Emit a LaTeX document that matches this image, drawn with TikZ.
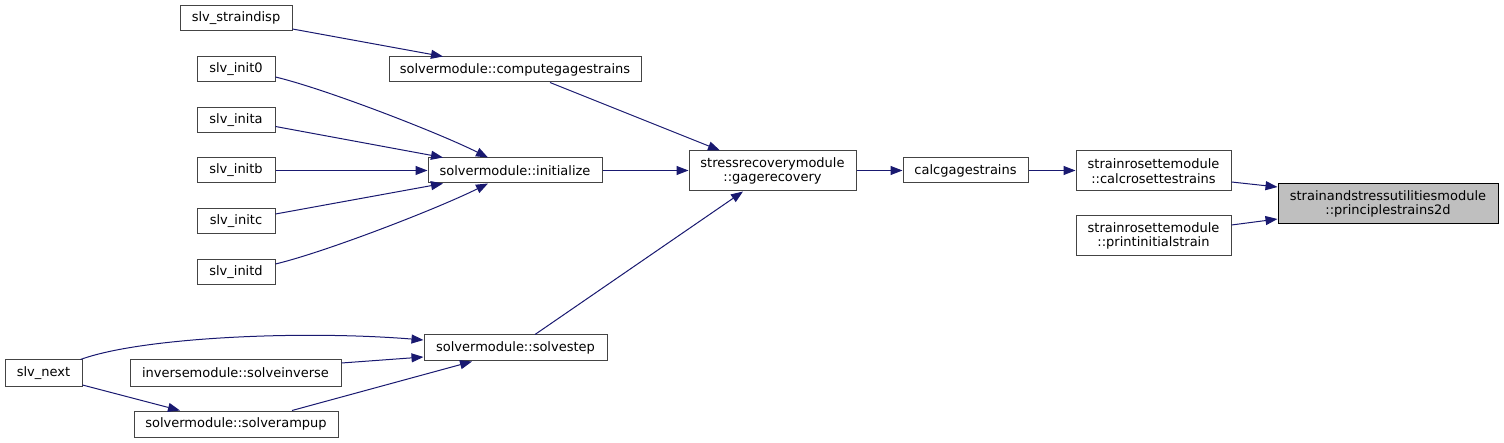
\documentclass[tikz,border=0pt]{standalone}
\usepackage{fontspec}
\setmainfont{DejaVu Sans}
\usetikzlibrary{arrows.meta}
\definecolor{edgeblue}{HTML}{191970}
\definecolor{boxgray}{HTML}{444444}
\definecolor{rootfill}{HTML}{BFBFBF}
\begin{document}
\begin{tikzpicture}[x=1pt,y=-1pt,
  fn/.style={draw=boxgray,line width=1pt,fill=white,inner sep=0pt,
    font=\fontsize{13}{14.5}\selectfont,align=center},
  rootfn/.style={fn,draw=black,fill=rootfill},
  call/.style={draw=edgeblue,line width=1pt,-{Triangle[length=12pt,width=9pt]}}
]
\useasboundingbox (0,0) rectangle (1504,443);
% left column
\node[fn,minimum width=112pt,minimum height=25pt] (sd) at (236,18.5) {slv\_straindisp};
\node[fn,minimum width=78pt,minimum height=25pt] (i0) at (236,69.5) {slv\_init0};
\node[fn,minimum width=78pt,minimum height=25pt] (ia) at (236,120) {slv\_inita};
\node[fn,minimum width=78pt,minimum height=25pt] (ib) at (236,170.5) {slv\_initb};
\node[fn,minimum width=78pt,minimum height=25pt] (ic) at (236,221.5) {slv\_initc};
\node[fn,minimum width=78pt,minimum height=25pt] (id) at (236,272) {slv\_initd};
\node[fn,minimum width=77pt,minimum height=26pt] (nx) at (43.5,373) {slv\_next};
\node[fn,minimum width=211pt,minimum height=26pt] (si) at (235.5,373) {inversemodule::solveinverse};
\node[fn,minimum width=204pt,minimum height=26pt] (ru) at (236,424) {solvermodule::solverampup};
% middle column
\node[fn,minimum width=252pt,minimum height=25pt] (cgs) at (515,69.5) {solvermodule::computegagestrains};
\node[fn,minimum width=174pt,minimum height=25pt] (ini) at (515,170.5) {solvermodule::initialize};
\node[fn,minimum width=183pt,minimum height=26pt] (ss) at (515.5,348) {solvermodule::solvestep};
\node[fn,minimum width=167pt,minimum height=40pt] (gr) at (772.5,171) {stressrecoverymodule\\::gagerecovery};
\node[fn,minimum width=125pt,minimum height=25pt] (cg) at (965.5,170.5) {calcgagestrains};
\node[fn,minimum width=155pt,minimum height=40pt] (cr) at (1153.5,171) {strainrosettemodule\\::calcrosettestrains};
\node[fn,minimum width=155pt,minimum height=40pt] (pi) at (1153.5,236) {strainrosettemodule\\::printinitialstrain};
\node[rootfn,minimum width=220pt,minimum height=40pt] (ps) at (1388,204) {strainandstressutilitiesmodule\\::principlestrains2d};
% connectors
\draw[call] ([yshift=-10.5pt]sd.east) -- ([xshift=-72pt]cgs.north);
\draw[call] ([yshift=-7.5pt]i0.east) .. controls +(50,12) and +(-50,-25) .. ([xshift=-27pt]ini.north);
\draw[call] ([yshift=-6.5pt]ia.east) -- ([xshift=-72pt]ini.north);
\draw[call] (ib.east) -- (ini.west);
\draw[call] ([yshift=7.5pt]ic.east) -- ([xshift=-72pt]ini.south);
\draw[call] ([yshift=8pt]id.east) .. controls +(50,-12) and +(-50,25) .. ([xshift=-27pt]ini.south);
\draw[call] ([xshift=35pt]cgs.south) -- ([xshift=-52.5pt]gr.north);
\draw[call] (ini.east) -- (ini.east -| gr.west);
\draw[call] ([xshift=19.5pt]ss.north) -- ([xshift=-29.5pt]gr.south);
\draw[call] (cg.west -| gr.east) -- (cg.west);
\draw[call] (cg.east) -- (cg.east -| cr.west);
\draw[call] ([yshift=-11pt]cr.east) -- ([yshift=17pt]ps.west);
\draw[call] ([yshift=11pt]pi.east) -- ([yshift=-15pt]ps.west);
\draw[call] ([xshift=-2pt]nx.north east) .. controls +(60,-22) and +(-124,-10) .. ([yshift=8pt]ss.west);
\draw[call] ([yshift=10pt]si.east) -- ([yshift=-9pt]ss.west);
\draw[call] ([yshift=-12pt]nx.east) -- ([xshift=-56pt]ru.north);
\draw[call] ([xshift=56pt]ru.north) -- ([xshift=-43.5pt]ss.south);
\end{tikzpicture}
\end{document}
